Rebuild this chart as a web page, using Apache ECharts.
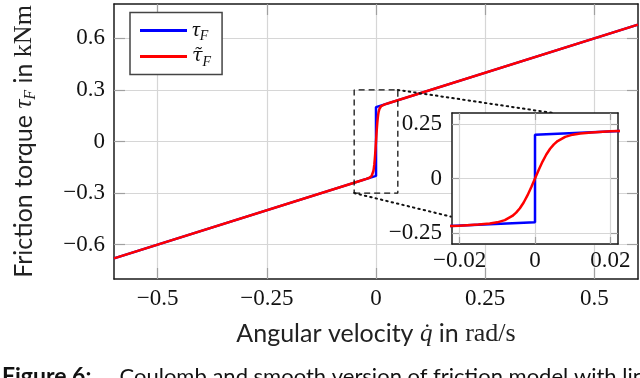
<!DOCTYPE html>
<html><head><meta charset="utf-8">
<script src="https://cdn.jsdelivr.net/npm/echarts@6/dist/echarts.min.js"></script>
<style>html,body{margin:0;padding:0;background:#fff}#c{width:640px;height:378px}</style>
</head><body><div id="c"></div>
<script>
// Coulomb friction (blue) and smooth approximation (red)
const coulombQ = [-0.6, 0, 0, 0.6];
const coulombTau = [-0.68, -0.2, 0.2, 0.68];
const smoothQ = [-0.6, -0.03, -0.022, -0.02, -0.015, -0.012, -0.01, -0.008, -0.006, -0.005, -0.004, -0.003, -0.002, -0.001, 0,
                 0.001, 0.002, 0.003, 0.004, 0.005, 0.006, 0.008, 0.01, 0.012, 0.015, 0.02, 0.022, 0.03, 0.6];
const smoothTau = [-0.68, -0.224, -0.2176, -0.2159, -0.211, -0.2063, -0.2008, -0.1907, -0.1715, -0.1563, -0.136, -0.1098, -0.0776, -0.0403, 0,
                   0.0403, 0.0776, 0.1098, 0.136, 0.1563, 0.1715, 0.1907, 0.2008, 0.2063, 0.211, 0.2159, 0.2176, 0.224, 0.68];
// zoom window marked in the main plot
const zoomBoxQ = [-0.05, 0.05, 0.05, -0.05, -0.05];
const zoomBoxTau = [-0.3, -0.3, 0.3, 0.3, -0.3];
// connector lines toward the inset
const connUpperQ = [0.05, 0.4027];
const connUpperTau = [0.3, 0.1666];
const connLowerQ = [-0.05, 0.1716];
const connLowerTau = [-0.3, -0.437];
// ticks
const mainXTicks = [-0.5, -0.25, 0, 0.25, 0.5];
const mainYTicks = [-0.6, -0.3, 0, 0.3, 0.6];
const insetXTicks = [-0.02, 0, 0.02];
const insetYTicks = [-0.25, 0, 0.25];

const pairs = (a, b) => a.map((v, i) => [v, b[i]]);
const fmt = v => (v < 0 ? '\u2212' : '') + String(Math.abs(v));

const SERIF = '"Liberation Serif", "DejaVu Serif", serif';
const SANS = '"Lato", "Liberation Sans", sans-serif';
const GRID_C = '#d6d6d6', TICK_C = '#a0a0a0', AXIS_C = '#1a1a1a';

const richTitle = {
  s: {fontFamily: SANS, fontSize: 25, color: '#222', lineHeight: 28},
  m: {fontFamily: SERIF, fontStyle: 'italic', fontSize: 25, color: '#222', lineHeight: 28},
  sub: {fontFamily: SERIF, fontStyle: 'italic', fontSize: 16, color: '#222', lineHeight: 14, padding: [14, 0, 0, 0]},
  r: {fontFamily: SERIF, fontSize: 26, color: '#222', lineHeight: 28}
};

function mkX(grid, pos, ticks, min, max, tickLen, withLabels, extra) {
  return Object.assign({
    type: 'value', gridIndex: grid, position: pos, min: min, max: max, z: grid ? 11 : 0,
    axisLine: {show: true, onZero: false, lineStyle: {color: AXIS_C, width: 1.5}},
    axisTick: {show: true, inside: true, length: tickLen, customValues: ticks, lineStyle: {color: TICK_C, width: 1.2}},
    axisLabel: {show: withLabels, customValues: ticks, formatter: fmt, fontFamily: SERIF, fontSize: 23, color: '#111', margin: grid ? 5 : 8},
    splitLine: {show: withLabels, lineStyle: {color: GRID_C, width: 1.2}}
  }, extra || {});
}
function mkY(grid, pos, ticks, min, max, tickLen, withLabels, extra) {
  return Object.assign({
    type: 'value', gridIndex: grid, position: pos, min: min, max: max, z: grid ? 11 : 0,
    axisLine: {show: true, onZero: false, lineStyle: {color: AXIS_C, width: 1.5}},
    axisTick: {show: true, inside: true, length: tickLen, customValues: ticks, lineStyle: {color: TICK_C, width: 1.2}},
    axisLabel: {show: withLabels, customValues: ticks, formatter: fmt, fontFamily: SERIF, fontSize: 23, color: '#111', margin: grid ? 10 : 9},
    splitLine: {show: withLabels, lineStyle: {color: GRID_C, width: 1.2}}
  }, extra || {});
}

const chart = echarts.init(document.getElementById('c'));
chart.setOption({
  animation: false,
  backgroundColor: '#fff',
  grid: [
    {left: 114, right: 2, top: 4, bottom: 99, containLabel: false},
    {left: 452, right: 22, top: 113, bottom: 134, show: true, backgroundColor: '#fff', borderWidth: 0, z: 10}
  ],
  xAxis: [
    mkX(0, 'bottom', mainXTicks, -0.6, 0.6, 11, true, {
      name: '{s|Angular velocity }{m|q\u0307}{s| in }{r|rad/s}', nameLocation: 'middle', nameGap: 41,
      nameTextStyle: {rich: richTitle}
    }),
    mkX(0, 'top', mainXTicks, -0.6, 0.6, 11, false),
    mkX(1, 'bottom', insetXTicks, -0.022, 0.022, 7, true),
    mkX(1, 'top', insetXTicks, -0.022, 0.022, 7, false)
  ],
  yAxis: [
    mkY(0, 'left', mainYTicks, -0.8, 0.8, 11, true, {
      name: '{s|Friction torque }{m|\u03c4}{sub|F}{s| in }{r|kNm}', nameLocation: 'middle', nameGap: 76, nameRotate: 90,
      nameTextStyle: {rich: richTitle}
    }),
    mkY(0, 'right', mainYTicks, -0.8, 0.8, 11, false),
    mkY(1, 'left', insetYTicks, -0.3, 0.3, 7, true),
    mkY(1, 'right', insetYTicks, -0.3, 0.3, 7, false)
  ],
  legend: {
    data: ['tauF', 'tauFsmooth'], orient: 'vertical', left: 130, top: 12.5,
    padding: [5, 11, 5, 10], itemWidth: 47, itemHeight: 3, itemGap: 0, icon: 'rect',
    backgroundColor: '#fff', borderColor: '#444', borderWidth: 1.5, borderRadius: 0,
    formatter: n => n === 'tauF' ? '{m|\u03c4}{sub|F}' : '{t|\u03c4\u0303}{sub|F}',
    textStyle: {rich: {
      m: {fontFamily: SERIF, fontStyle: 'italic', fontSize: 22, color: '#111', lineHeight: 20},
      t: {fontFamily: '"DejaVu Serif", serif', fontStyle: 'italic', fontSize: 19, color: '#111', lineHeight: 20},
      sub: {fontFamily: SERIF, fontStyle: 'italic', fontSize: 14, color: '#111', lineHeight: 8, padding: [12, 0, 0, 0]}
    }}
  },
  graphic: [
    {type: 'text', left: 2, top: 365, z: 100, style: {
      text: '{b|Figure 6:}     Coulomb and smooth version of friction model with linear',
      fontFamily: SANS, fontSize: 22, fill: '#111',
      rich: {b: {fontWeight: 'bold', fontFamily: SANS, fontSize: 23, fill: '#111'}}
    }}
  ],
  series: [
    {name: 'tauF', type: 'line', xAxisIndex: 0, yAxisIndex: 0, data: pairs(coulombQ, coulombTau), showSymbol: false, symbol: 'none',
      lineStyle: {color: '#0000ff', width: 2.5}, itemStyle: {color: '#0000ff'}, z: 2},
    {name: 'tauFsmooth', type: 'line', xAxisIndex: 0, yAxisIndex: 0, data: pairs(smoothQ, smoothTau), showSymbol: false, symbol: 'none',
      lineStyle: {color: '#ff0000', width: 2.5}, itemStyle: {color: '#ff0000'}, z: 3},
    {name: 'zoomBox', type: 'line', xAxisIndex: 0, yAxisIndex: 0, data: pairs(zoomBoxQ, zoomBoxTau), showSymbol: false, symbol: 'none',
      lineStyle: {color: '#111', width: 1.3, type: [6, 4]}, z: 4},
    {name: 'connU', type: 'line', xAxisIndex: 0, yAxisIndex: 0, data: pairs(connUpperQ, connUpperTau), showSymbol: false, symbol: 'none', clip: false,
      lineStyle: {color: '#111', width: 2, type: [1.5, 4], cap: 'round'}, z: 4},
    {name: 'connL', type: 'line', xAxisIndex: 0, yAxisIndex: 0, data: pairs(connLowerQ, connLowerTau), showSymbol: false, symbol: 'none', clip: false,
      lineStyle: {color: '#111', width: 2, type: [1.5, 4], cap: 'round'}, z: 4},
    {name: 'tauF', type: 'line', xAxisIndex: 2, yAxisIndex: 2, data: pairs(coulombQ, coulombTau), showSymbol: false, symbol: 'none',
      lineStyle: {color: '#0000ff', width: 2.5}, z: 12},
    {name: 'tauFsmooth', type: 'line', xAxisIndex: 2, yAxisIndex: 2, data: pairs(smoothQ, smoothTau), showSymbol: false, symbol: 'none',
      lineStyle: {color: '#ff0000', width: 2.5}, z: 13}
  ]
});
</script></body></html>
